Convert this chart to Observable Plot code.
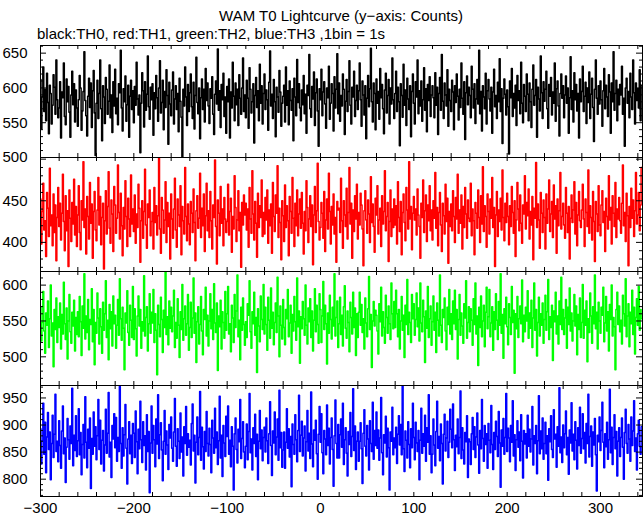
<!DOCTYPE html>
<html>
<head>
<meta charset="utf-8">
<script src="https://cdn.jsdelivr.net/npm/d3@7"></script>
<script src="https://cdn.jsdelivr.net/npm/@observablehq/plot@0.6"></script>
<style>
  html, body { margin: 0; padding: 0; background: #fff; }
  #wrap { position: relative; width: 643px; height: 515px; font-family: "Liberation Sans", Arial, Helvetica, sans-serif; color: #000; }
  #title { position: absolute; left: 40px; width: 602px; top: 7px; text-align: center; font-size: 15px; line-height: 18px; }
  #subtitle { position: absolute; left: 37px; top: 25px; font-size: 15px; line-height: 18px; white-space: pre; }
  .panel { position: absolute; left: 0; }
</style>
</head>
<body>
<div id="wrap">
  <div id="title">WAM T0 Lightcurve (y−axis: Counts)</div>
  <div id="subtitle">black:TH0, red:TH1, green:TH2, blue:TH3 ,1bin = 1s</div>
</div>
<script>
// Time axis: 1 bin = 1 s, starting at -300 s
const tStart = -300;
const xDomain = [-300, 345];
const xTickLabels = [-300, -200, -100, 0, 100, 200, 300];

const th0 = [
612,541,587,630,566,598,553,621,579,534,604,592,548,575,619,601,562,640,583,557,
571,609,528,594,586,636,559,547,613,580,602,565,529,590,624,576,606,551,597,571,
545,583,618,600,539,567,595,652,582,560,531,588,614,572,607,543,596,625,564,503,
578,611,556,592,640,570,524,603,587,549,615,598,562,581,633,557,590,536,609,574,
627,563,585,547,606,593,654,571,538,599,580,617,552,576,604,529,588,611,569,596,
550,602,575,637,584,561,590,507,578,622,596,544,609,568,591,646,573,555,601,583,
606,532,593,570,618,586,552,600,639,564,579,611,540,595,572,626,589,519,608,577,
560,597,623,548,584,603,569,592,537,614,581,558,500,598,574,630,587,546,605,566,
593,620,573,556,608,541,589,644,579,563,600,527,586,613,569,598,551,628,582,607,
574,549,599,585,616,562,533,591,610,577,656,568,596,543,605,583,621,559,587,535,
602,580,613,528,594,571,637,588,553,607,576,598,546,619,585,562,600,643,566,590,
557,611,585,542,629,598,564,580,606,521,589,615,572,596,553,634,578,603,548,592,
620,569,597,583,539,608,653,574,591,556,612,580,530,601,587,565,625,594,545,578,
588,604,551,630,575,596,547,610,582,568,599,524,614,587,560,641,579,606,571,553,
597,576,618,563,591,535,604,589,648,570,558,602,584,623,546,593,613,567,516,599,
583,627,560,594,609,577,542,600,586,631,555,578,606,592,538,616,571,598,649,563,
607,552,589,574,620,598,533,581,612,566,595,639,575,548,601,587,624,559,582,604,
569,596,636,583,545,610,590,561,603,527,585,618,573,599,657,580,551,607,592,540,
613,578,595,555,628,586,605,570,534,597,621,564,589,612,548,600,577,643,583,556,
592,624,566,601,580,517,606,589,558,634,575,597,546,614,584,569,603,530,595,620,
578,548,609,587,640,563,596,574,610,552,583,629,568,599,537,605,582,616,559,590,
603,586,557,622,575,601,533,592,615,568,648,581,556,607,590,574,626,545,598,582,
566,611,594,540,603,579,620,588,554,598,572,636,585,562,609,526,593,617,576,601,
589,557,631,598,571,606,549,584,612,577,654,563,595,538,603,587,570,621,548,596,
612,584,567,601,535,594,627,573,589,556,608,580,642,566,599,520,585,613,591,561,
597,573,505,610,586,628,559,592,571,604,546,618,582,596,563,637,578,550,605,588,
566,620,591,553,607,580,543,598,633,575,589,612,529,601,584,567,646,593,556,609,
581,598,624,570,542,605,588,615,561,594,578,636,552,599,610,574,531,592,620,585,
603,557,590,617,578,600,535,586,645,569,596,551,622,583,605,567,592,528,613,580,
595,631,566,588,608,549,600,579,623,556,591,614,572,523,598,640,585,562,603,577,
610,583,545,596,628,570,604,587,559,619,594,535,607,580,652,568,592,611,553,598,
576,605,590,631,562,585,516,600,614,578,595,557,621,587,569,640,593,548,607,582,
599,571,626,553,604
];

const th1 = [
452,398,437,471,415,426,383,460,441,407,489,420,433,396,458,412,445,378,430,466,
419,447,403,435,482,425,390,456,414,438,371,463,429,401,448,422,476,409,443,395,
433,468,412,391,450,427,497,418,440,386,455,431,404,472,423,446,381,437,461,415,
402,439,478,421,455,397,430,447,368,426,462,410,443,485,417,399,451,434,389,467,
445,411,429,493,436,404,459,420,384,442,416,474,431,395,453,428,407,481,422,440,
413,457,399,434,418,470,441,376,426,450,405,437,488,421,393,446,430,463,408,425,
436,392,466,424,444,409,432,501,416,387,454,439,411,427,473,400,448,419,435,380,
458,428,405,440,477,415,394,452,433,419,468,385,443,426,410,490,431,402,446,422,
397,449,435,412,464,424,378,438,456,417,429,483,406,441,420,458,389,432,471,414,
438,406,461,426,392,445,430,499,419,374,451,435,408,467,423,440,396,454,428,412,
425,470,409,437,453,388,431,416,480,442,401,427,462,414,436,370,448,421,457,433,
447,415,440,394,466,428,411,486,434,403,449,423,382,459,418,444,430,475,407,436,
410,454,427,463,399,439,420,446,387,472,431,413,457,435,492,406,441,424,379,450,
432,401,469,418,444,426,384,455,437,411,478,429,395,447,420,463,408,434,452,417,
460,423,386,437,414,474,442,400,428,456,419,445,373,433,467,412,438,495,425,403,
418,448,435,405,461,389,427,452,416,483,437,398,443,421,458,410,430,376,449,439,
441,412,477,426,393,450,433,419,465,404,436,490,422,447,381,439,413,456,428,470,
404,436,421,459,445,416,372,438,462,427,411,451,434,400,479,424,446,419,388,453,
433,468,410,427,441,395,456,422,437,486,414,431,448,377,425,463,407,440,418,452,
421,444,398,473,430,413,449,385,436,458,424,402,466,439,416,497,428,443,391,435,
455,427,440,409,464,433,419,381,447,430,475,412,438,457,401,445,426,468,414,439,
403,450,429,484,417,442,396,436,460,421,389,447,432,410,470,425,453,375,437,419,
446,414,462,431,400,454,428,482,411,439,423,457,392,443,418,466,434,405,451,429,
425,471,408,440,426,385,448,435,417,463,430,400,456,422,491,413,444,431,394,458,
437,410,452,429,478,418,442,371,433,461,407,439,425,453,415,487,430,402,447,424,
459,431,397,444,419,467,436,411,450,383,427,472,440,414,457,423,399,445,434,480,
416,448,432,464,404,437,421,455,379,441,429,496,418,446,427,393,460,435,412,451,
430,392,458,423,440,475,413,434,449,406,469,428,444,387,452,420,438,484,416,431,
447,421,405,466,435,412,443,380,429,457,424,439,473,410,448,396,433,461,426,418,
439,470,428,395,452,436,419,487,411,444,430,403,461,425,377,449,434,413,468,421,
408,445,462,424,437,389,453,431,416,480,427,442,398,456,435,419,472,406,440,428,
454,426,411,447,493,420,436,401,459,432,372,443,418,465,429,451,407,438,484,422,
433,460,414,445,490
];

const th2 = [
570,522,548,591,536,505,561,544,578,513,553,600,529,547,486,566,538,582,520,556,
541,575,511,559,532,604,546,524,568,497,550,587,535,519,562,543,579,508,555,531,
563,528,584,549,502,571,540,616,525,557,534,580,510,552,545,595,521,566,489,548,
533,589,554,518,567,542,505,576,537,560,606,527,551,496,573,539,563,515,585,546,
558,512,544,580,530,609,553,523,569,540,482,561,547,592,534,516,572,551,527,598,
524,567,539,501,557,585,543,566,512,549,536,613,529,555,570,508,546,588,533,562,
547,594,520,560,537,475,572,545,528,583,552,506,565,541,619,531,556,517,578,540,
569,535,557,593,513,548,526,581,544,499,563,538,601,523,553,571,530,546,587,509,
541,576,527,554,610,533,561,492,549,570,518,545,584,536,503,566,552,597,529,558,
515,550,588,539,566,524,602,547,534,575,481,557,542,579,511,563,548,526,591,537,
560,598,532,546,507,572,554,520,587,541,564,614,528,551,496,569,537,582,545,516,
549,527,574,558,606,535,512,563,546,590,530,555,478,567,543,521,585,552,538,601,
532,569,545,509,583,551,526,596,540,562,517,548,575,534,611,557,500,571,544,525,
580,541,517,566,553,594,528,547,572,505,559,536,584,549,523,610,542,564,491,556,
539,577,553,530,600,544,518,568,549,581,527,564,508,551,595,535,572,545,519,588,
566,520,557,605,538,572,546,490,561,533,586,552,525,569,543,616,529,555,578,513,
546,583,531,558,515,570,599,540,526,564,548,507,576,555,532,590,541,568,502,560,
527,562,590,544,573,534,553,511,582,547,528,567,612,538,559,485,550,577,543,565,
558,536,504,574,549,597,529,563,541,519,586,555,533,571,546,524,603,560,539,577,
541,593,560,528,566,511,550,584,537,558,499,572,545,608,531,562,548,520,587,553,
574,530,552,589,542,568,522,603,547,535,579,556,492,564,540,598,527,553,571,516,
549,585,537,562,506,575,551,529,614,544,520,566,555,582,536,510,569,545,594,532,
560,524,578,546,593,538,566,497,552,587,530,561,543,519,574,554,606,526,548,570,
535,567,551,516,581,545,603,532,557,488,569,541,585,528,550,572,514,562,597,539,
556,594,528,547,570,509,563,538,588,551,524,577,544,616,533,559,498,567,546,583,
542,517,574,555,531,598,548,565,477,560,539,584,527,553,571,546,607,521,558,535,
569,550,592,526,561,540,579,513,554,603,537,566,501,548,583,529,560,544,575,519,
552,586,537,563,608,524,556,541,572,495,564,549,590,532,557,518,578,545,611,538,
566,531,554,580,512,569,545,596,536,561,522,550,587,543,571,503,559,538,582,527,
548,601,526,565,544,578,493,553,534,589,557,519,570,546,614,539,562,511,576,550,
533,569,558,597,521,547,584,536,563,508,573,552,600,529,555,542,482,566,590,545,
571,535,551,518,586,560,543,609,528,557,574,514,562,546,593,531,569,504,555,581,
544,598,537,566,553
];

const th3 = [
893,828,871,940,846,905,812,878,923,855,887,799,866,918,840,883,957,851,870,832,
908,862,820,889,935,847,876,794,859,912,873,837,898,866,968,825,881,853,917,842,
871,930,845,886,808,864,901,839,952,868,821,892,857,913,783,875,846,924,861,897,
836,880,947,855,909,828,872,890,815,863,929,848,885,960,841,868,803,899,874,921,
858,914,833,877,851,971,866,820,895,843,882,938,857,791,874,906,847,881,829,903,
885,840,926,869,810,892,856,944,873,831,906,862,880,817,919,851,888,775,867,935,
848,899,873,823,911,865,956,838,882,904,854,797,870,927,846,889,863,818,901,876,
915,857,833,887,949,861,824,893,870,838,922,850,878,806,897,866,934,844,884,859,
872,826,903,939,852,881,793,868,915,845,877,962,835,896,860,819,888,851,925,866,
843,894,864,812,909,876,848,931,858,887,827,871,953,839,881,805,899,867,842,916,
879,935,846,872,823,897,861,780,884,913,855,830,892,869,947,838,875,906,850,821,
861,902,836,888,958,849,874,817,895,866,920,842,883,799,870,927,856,891,834,877,
896,850,913,871,829,884,943,862,807,889,867,924,845,878,911,835,964,858,886,822,
854,887,820,868,930,857,893,841,879,786,902,864,846,919,873,832,890,955,851,881,
907,843,876,898,815,869,927,852,885,838,961,865,823,891,872,909,847,800,883,934,
868,921,849,810,890,874,845,937,862,894,828,877,913,855,787,880,946,866,839,901,
839,882,911,859,940,827,873,895,848,806,888,864,923,842,879,967,853,898,818,870,
887,833,870,904,856,792,885,928,861,843,899,874,817,908,866,851,942,837,890,862,
924,857,891,835,876,951,849,808,882,867,916,841,894,858,780,887,870,933,845,876,
858,896,829,883,917,863,901,845,972,856,814,889,872,839,906,864,821,893,858,940,
877,836,905,867,851,890,799,872,931,848,884,861,918,833,895,868,956,846,880,812,
846,911,863,825,888,944,857,879,834,902,866,791,883,920,852,876,907,840,868,929,
892,858,939,873,816,881,860,911,847,877,963,838,895,854,828,886,869,917,803,874,
869,827,884,914,855,897,840,878,922,863,811,890,856,947,875,833,899,864,884,820,
903,872,849,936,864,818,886,855,907,879,842,925,867,785,891,861,912,846,877,958,
851,894,876,832,899,868,945,843,882,816,873,908,859,887,834,919,870,802,890,865,
884,839,918,861,892,850,874,934,826,880,866,899,810,871,954,847,889,856,913,837,
866,905,847,880,798,893,869,917,855,840,928,874,883,822,897,861,969,849,878,831,
900,858,884,926,845,877,809,891,867,941,852,883,836,906,872,819,895,862,933,848,
875,921,856,886,830,903,866,957,841,879,898,824,887,863,912,845,778,881,869,915,
853,890,942,868,821,884,860,905,837,873,966,849,896,827,877,919,856,888,806,870,
895,842,877,913,859,800,886,929,866,848,901,874,833,915,862,889,945,851,876,817,
884,909,861,846,897
];

// Panel definitions: series, colour, y range, labelled ticks
const panels = [
  {values: th0, color: "#000000", domain: [500, 661], labels: [500, 550, 600, 650], top: 45, h: 112},
  {values: th1, color: "#ff0000", domain: [365, 502], labels: [400, 450], top: 157, h: 114},
  {values: th2, color: "#00ff00", domain: [460, 619], labels: [500, 550, 600], top: 271, h: 114},
  {values: th3, color: "#0000ff", domain: [768, 973], labels: [800, 850, 900, 950], top: 385, h: 111}
];

const W = 643, ML = 40, MR = 1;
const innerW = W - ML - MR;
const fontFamily = '"Liberation Sans", Arial, Helvetica, sans-serif';
const xMinor = d3.range(-300, 346, 20);

const wrap = document.getElementById("wrap");
panels.forEach((p, idx) => {
  const last = idx === panels.length - 1;
  const mb = last ? 22 : 0;
  const rows = p.values.map((v, i) => ({t: tStart + i, v}));
  const yMinor = d3.range(Math.ceil(p.domain[0] / 10) * 10, p.domain[1] + 0.001, 10);
  const yMajor = yMinor.filter(d => d % 50 === 0);
  const yMin = yMinor.filter(d => d % 50 !== 0);
  const marks = [
    Plot.line(rows, {x: "t", y: "v", curve: "step", stroke: p.color, strokeWidth: 1.5, clip: true}),
    Plot.tickX(xMinor, {x: d => d, insetBottom: p.h - 4, stroke: "black"}),
    Plot.tickX(xMinor, {x: d => d, insetTop: p.h - 4, stroke: "black"}),
    Plot.tickY(yMajor, {y: d => d, insetRight: innerW - 6, stroke: "black"}),
    Plot.tickY(yMin, {y: d => d, insetRight: innerW - 3, stroke: "black"}),
    Plot.tickY(yMajor, {y: d => d, insetLeft: innerW - 6, stroke: "black"}),
    Plot.tickY(yMin, {y: d => d, insetLeft: innerW - 3, stroke: "black"}),
    Plot.axisY(p.labels, {tickSize: 0, tickPadding: 13, fontSize: 15, tickFormat: d => String(d)}),
    Plot.frame({stroke: "black", strokeWidth: 1})
  ];
  if (last) {
    marks.push(Plot.axisX(xTickLabels, {tickSize: 0, tickPadding: 6, fontSize: 15}));
  }
  const chart = Plot.plot({
    width: W,
    height: p.h + mb,
    marginLeft: ML,
    marginRight: MR,
    marginTop: 0,
    marginBottom: mb,
    x: {domain: xDomain, label: null, axis: last ? undefined : null},
    y: {domain: p.domain, label: null},
    style: {background: "transparent", overflow: "visible", fontFamily, fontSize: "15px", color: "black"},
    marks
  });
  const div = document.createElement("div");
  div.className = "panel";
  div.style.top = p.top + "px";
  div.appendChild(chart);
  wrap.appendChild(div);
});
</script>
</body>
</html>
